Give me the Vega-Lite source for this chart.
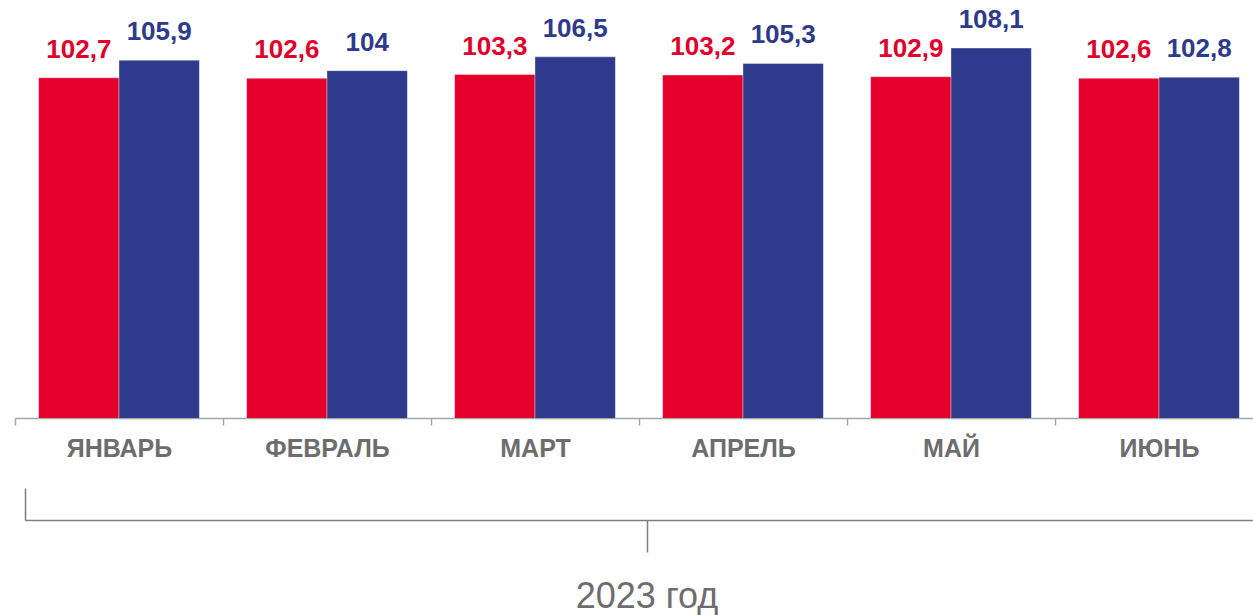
{
  "$schema": "https://vega.github.io/schema/vega-lite/v6.json",
  "width": 1238,
  "height": 408,
  "autosize": {"type": "none"},
  "padding": {"left": 15, "top": 10, "right": 0, "bottom": 197},
  "background": "white",
  "config": {"view": {"stroke": null}, "font": "Liberation Sans"},
  "layer": [
    {
      "data": {
        "values": [
          {"месяц": "ЯНВАРЬ", "ряд": "Серия 1", "значение": 102.7, "подпись": "102,7"},
          {"месяц": "ЯНВАРЬ", "ряд": "Серия 2", "значение": 105.9, "подпись": "105,9"},
          {"месяц": "ФЕВРАЛЬ", "ряд": "Серия 1", "значение": 102.6, "подпись": "102,6"},
          {"месяц": "ФЕВРАЛЬ", "ряд": "Серия 2", "значение": 104.0, "подпись": "104"},
          {"месяц": "МАРТ", "ряд": "Серия 1", "значение": 103.3, "подпись": "103,3"},
          {"месяц": "МАРТ", "ряд": "Серия 2", "значение": 106.5, "подпись": "106,5"},
          {"месяц": "АПРЕЛЬ", "ряд": "Серия 1", "значение": 103.2, "подпись": "103,2"},
          {"месяц": "АПРЕЛЬ", "ряд": "Серия 2", "значение": 105.3, "подпись": "105,3"},
          {"месяц": "МАЙ", "ряд": "Серия 1", "значение": 102.9, "подпись": "102,9"},
          {"месяц": "МАЙ", "ряд": "Серия 2", "значение": 108.1, "подпись": "108,1"},
          {"месяц": "ИЮНЬ", "ряд": "Серия 1", "значение": 102.6, "подпись": "102,6"},
          {"месяц": "ИЮНЬ", "ряд": "Серия 2", "значение": 102.8, "подпись": "102,8"}
        ]
      },
      "encoding": {
        "x": {
          "field": "месяц", "type": "nominal",
          "sort": ["ЯНВАРЬ", "ФЕВРАЛЬ", "МАРТ", "АПРЕЛЬ", "МАЙ", "ИЮНЬ"],
          "scale": {"range": [0, 1248], "paddingInner": 0, "paddingOuter": 0},
          "axis": {
            "orient": "bottom", "title": null, "tickBand": "extent", "labelAngle": 0,
            "labelFont": "Liberation Sans", "labelFontWeight": "bold", "labelFontSize": 25,
            "labelColor": "#6d6d6d", "labelPadding": 11, "tickSize": 7,
            "tickColor": "#a6a6a6", "tickWidth": 1.5, "domainColor": "#a6a6a6", "domainWidth": 1.5, "grid": false
          }
        },
        "xOffset": {"field": "ряд", "type": "nominal", "sort": ["Серия 1", "Серия 2"], "scale": {"paddingInner": 0, "paddingOuter": 0.2944}},
        "y": {"field": "значение", "type": "quantitative", "scale": {"domain": [41, 115], "zero": false, "nice": false}, "axis": null},
        "color": {"field": "ряд", "type": "nominal", "scale": {"domain": ["Серия 1", "Серия 2"], "range": ["#e4002b", "#2e3b8c"]}, "legend": null}
      },
      "layer": [
        {"mark": {"type": "bar", "clip": true, "stroke": "#ffffff", "strokeOpacity": 0.35, "strokeWidth": 1}},
        {"mark": {"type": "text", "baseline": "bottom", "dy": -15, "fontSize": 26, "fontWeight": "bold", "font": "Liberation Sans"},
         "encoding": {"text": {"field": "подпись"}}}
      ]
    },
    {
      "data": {"values": [{"t": 0}, {"t": 1}]},
      "mark": {"type": "point", "opacity": 0},
      "encoding": {
        "x": {
          "field": "t", "type": "quantitative",
          "scale": {"domain": [0, 1], "range": [10, 1253], "nice": false, "zero": false},
          "axis": {
            "orient": "bottom", "values": [0.5], "offset": 102, "tickSize": 32, "labels": false, "grid": false,
            "domainColor": "#7f7f7f", "domainWidth": 1.5, "tickColor": "#7f7f7f", "tickWidth": 1.5,
            "title": "2023 год", "titleFont": "Liberation Sans", "titleFontSize": 36, "titleFontWeight": "normal",
            "titleColor": "#6d6d6d", "titlePadding": 27
          }
        }
      }
    },
    {
      "data": {"values": [{"t": 0}, {"t": 1}]},
      "mark": {"type": "point", "opacity": 0},
      "encoding": {
        "x": {
          "field": "t", "type": "quantitative",
          "scale": {"domain": [0, 1], "range": [10, 1253], "nice": false, "zero": false},
          "axis": {
            "orient": "bottom", "values": [0], "offset": 102, "tickSize": -32, "labels": false, "grid": false,
            "domain": false, "tickColor": "#7f7f7f", "tickWidth": 1.5, "title": null
          }
        }
      }
    }
  ],
  "resolve": {"scale": {"x": "independent"}, "axis": {"x": "independent"}}
}
